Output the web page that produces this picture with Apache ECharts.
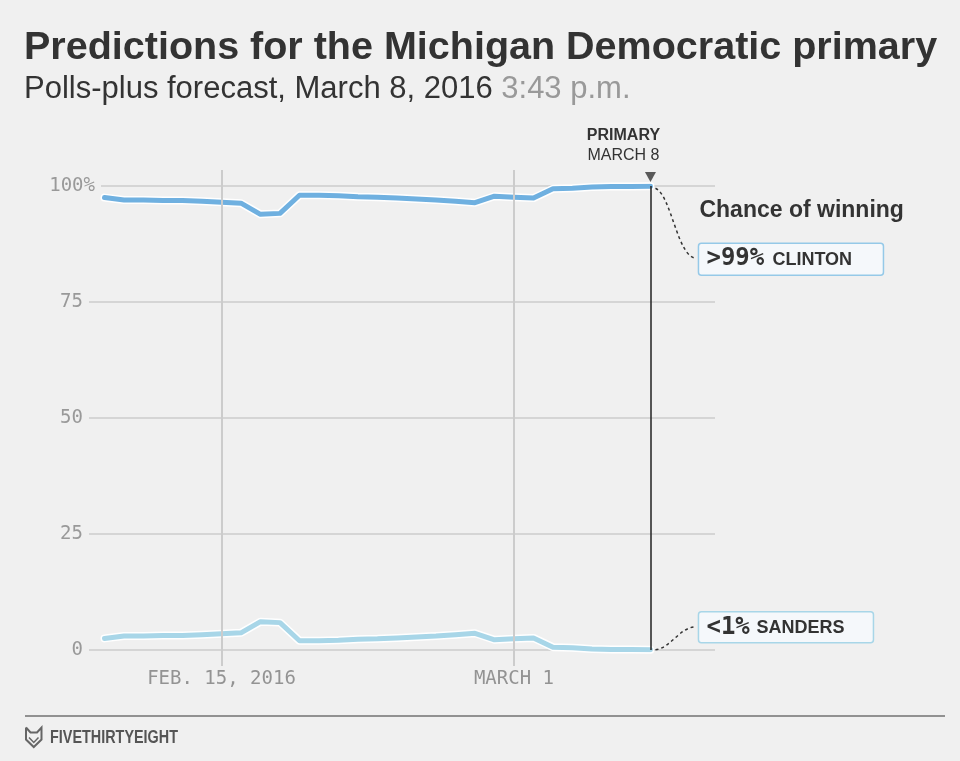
<!DOCTYPE html>
<html>
<head>
<meta charset="utf-8">
<script src="https://cdn.jsdelivr.net/npm/echarts@6/dist/echarts.min.js"></script>
<style>
  html, body { margin: 0; padding: 0; background: #f0f0f0; }
  #chart { width: 960px; height: 761px; }
</style>
</head>
<body>
<div id="chart"></div>
<script>
// ---------- data ----------
const dates = [
  '2016-02-09','2016-02-10','2016-02-11','2016-02-12','2016-02-13','2016-02-14','2016-02-15',
  '2016-02-16','2016-02-17','2016-02-18','2016-02-19','2016-02-20','2016-02-21','2016-02-22',
  '2016-02-23','2016-02-24','2016-02-25','2016-02-26','2016-02-27','2016-02-28','2016-02-29',
  '2016-03-01','2016-03-02','2016-03-03','2016-03-04','2016-03-05','2016-03-06','2016-03-07','2016-03-08'
];
const clinton = [97.5, 97.0, 97.0, 96.9, 96.9, 96.7, 96.5, 96.3, 93.9, 94.1, 98.0, 98.0, 97.9, 97.7,
  97.6, 97.4, 97.2, 97.0, 96.7, 96.4, 97.8, 97.6, 97.4, 99.4, 99.5, 99.8, 99.9, 99.9, 99.95];
const sanders = [2.5, 3.0, 3.0, 3.1, 3.1, 3.3, 3.5, 3.7, 6.1, 5.9, 2.0, 2.0, 2.1, 2.3,
  2.4, 2.6, 2.8, 3.0, 3.3, 3.6, 2.2, 2.4, 2.6, 0.6, 0.5, 0.2, 0.1, 0.1, 0.05];
const xTickDates = ['2016-02-15', '2016-03-01'];
const xTickLabels = ['FEB. 15, 2016', 'MARCH 1'];
const yTicks = [0, 25, 50, 75, 100];
const primaryDate = '2016-03-08';
const clintonLabel = ['>99%', 'CLINTON'];
const sandersLabel = ['<1%', 'SANDERS'];

// ---------- helpers ----------
const ORIGIN = Date.UTC(2016, 1, 15);
function dayOf(s) {
  const p = s.split('-').map(Number);
  return (Date.UTC(p[0], p[1] - 1, p[2]) - ORIGIN) / 86400000;
}
const xs = dates.map(dayOf);
const clintonData = xs.map((x, i) => [x, clinton[i]]);
const sandersData = xs.map((x, i) => [x, sanders[i]]);
const xTickVals = xTickDates.map(dayOf);
const primaryX = dayOf(primaryDate);

const X_MIN = -6.795, X_MAX = 25.31;
const MONO = '"DejaVu Sans Mono", monospace';
const SANS = '"Liberation Sans", Arial, sans-serif';
const GRID_LEFT = 89, GRID_RIGHT = 245;

const chart = echarts.init(document.getElementById('chart'), null, { renderer: 'canvas' });

const option = {
  backgroundColor: '#f0f0f0',
  animation: false,
  title: [
    {
      text: 'Predictions for the Michigan Democratic primary',
      left: 24, top: 28, padding: 0,
      textStyle: { fontFamily: SANS, fontWeight: 'bold', fontSize: 39.5, color: '#333' }
    },
    {
      text: 'Polls-plus forecast, March 8, 2016 {t|3:43 p.m.}',
      left: 24, top: 74, padding: 0,
      textStyle: {
        fontFamily: SANS, fontWeight: 'normal', fontSize: 31, color: '#333',
        rich: { t: { fontFamily: SANS, fontSize: 31, color: '#999' } }
      }
    }
  ],
  grid: [
    { left: GRID_LEFT, right: GRID_RIGHT, top: 170, height: 496 },
    { left: GRID_LEFT, right: GRID_RIGHT, top: 186, height: 464 }
  ],
  xAxis: [
    {
      gridIndex: 0, type: 'value', min: X_MIN, max: X_MAX,
      axisLine: { show: false }, axisTick: { show: false }, splitLine: { show: false },
      axisLabel: {
        customValues: xTickVals,
        margin: 4,
        fontFamily: MONO, fontSize: 19, color: '#939393',
        formatter: v => {
          const i = xTickVals.findIndex(t => Math.abs(t - v) < 1e-6);
          return i >= 0 ? xTickLabels[i] : '';
        }
      }
    },
    {
      gridIndex: 1, type: 'value', min: X_MIN, max: X_MAX, show: false,
      splitLine: { show: false }
    }
  ],
  yAxis: [
    { gridIndex: 0, type: 'value', min: 0, max: 1, show: false, splitLine: { show: false } },
    {
      gridIndex: 1, type: 'value', min: 0, max: 100, interval: 25,
      axisLine: { show: false }, axisTick: { show: false },
      splitLine: { show: true, lineStyle: { color: '#cccccc', width: 1.5 } },
      axisLabel: {
        margin: -12,
        formatter: v => v === 100 ? '{p|' + v + '%}' : '{n|' + v + '}',
        rich: {
          p: { fontFamily: MONO, fontSize: 19, color: '#999', padding: [2, 6, 2, 0], backgroundColor: '#f0f0f0' },
          n: { fontFamily: MONO, fontSize: 19, color: '#999', padding: [0, 18, 0, 0] }
        }
      }
    }
  ],
  series: [
    {
      type: 'line', xAxisIndex: 0, yAxisIndex: 0, data: [], silent: true,
      markLine: {
        silent: true, symbol: 'none', label: { show: false },
        lineStyle: { color: '#cccccc', width: 2, type: 'solid' },
        data: xTickVals.map(v => ({ xAxis: v }))
      }
    },
    {
      type: 'line', xAxisIndex: 1, yAxisIndex: 1, data: [], silent: true,
      markLine: {
        silent: true, symbol: 'none', label: { show: false },
        lineStyle: { color: '#222', width: 1.5, type: 'solid' },
        data: [[{ coord: [primaryX, 100] }, { coord: [primaryX, 0] }]]
      }
    },
    {
      name: 'Clinton halo', type: 'line', xAxisIndex: 1, yAxisIndex: 1, data: clintonData,
      showSymbol: false, silent: true,
      lineStyle: { color: '#ffffff', width: 8, cap: 'round', join: 'round' }
    },
    {
      name: 'Clinton', type: 'line', xAxisIndex: 1, yAxisIndex: 1, data: clintonData,
      showSymbol: false, silent: true,
      lineStyle: { color: '#6fb0e0', width: 5, cap: 'round', join: 'round' }
    },
    {
      name: 'Sanders halo', type: 'line', xAxisIndex: 1, yAxisIndex: 1, data: sandersData,
      showSymbol: false, silent: true,
      lineStyle: { color: '#ffffff', width: 8, cap: 'round', join: 'round' }
    },
    {
      name: 'Sanders', type: 'line', xAxisIndex: 1, yAxisIndex: 1, data: sandersData,
      showSymbol: false, silent: true,
      lineStyle: { color: '#a8d6e8', width: 5, cap: 'round', join: 'round' }
    },
    {
      type: 'scatter', xAxisIndex: 1, yAxisIndex: 1, silent: true,
      data: [[primaryX, 100]],
      symbol: 'triangle', symbolRotate: 180, symbolSize: [11, 10], symbolOffset: [0, -9],
      itemStyle: { color: '#333' }
    }
  ]
};
chart.setOption(option);

// ---------- annotations anchored to scale positions ----------
const last = xs.length - 1;
const pC = chart.convertToPixel({ gridIndex: 1 }, [xs[last], clinton[last]]);
const pS = chart.convertToPixel({ gridIndex: 1 }, [xs[last], sanders[last]]);
const pTop = chart.convertToPixel({ gridIndex: 1 }, [primaryX, 100]);

const bx = pC[0] + 48;
const cy = pC[1] + 57;   // clinton box top
const sy = pS[1] - 38;   // sanders box top

const g = [];
g.push({ type: 'text', x: pTop[0] - 27, y: pTop[1] - 50, silent: true,
  style: { text: 'PRIMARY', fontFamily: SANS, fontWeight: 'bold', fontSize: 16, fill: '#333', align: 'center', verticalAlign: 'middle' } });
g.push({ type: 'text', x: pTop[0] - 27, y: pTop[1] - 30, silent: true,
  style: { text: 'MARCH 8', fontFamily: SANS, fontWeight: 'normal', fontSize: 16, fill: '#333', align: 'center', verticalAlign: 'middle' } });
g.push({ type: 'text', x: bx + 1, y: pC[1] + 24, silent: true,
  style: { text: 'Chance of winning', fontFamily: SANS, fontWeight: 'bold', fontSize: 23, fill: '#333', align: 'left', verticalAlign: 'middle' } });

// connectors
g.push({ type: 'bezierCurve', silent: true,
  shape: { x1: pC[0] + 5, y1: pC[1] + 2, cpx1: pC[0] + 21, cpy1: pC[1] + 9, cpx2: pC[0] + 27, cpy2: cy + 15, x2: bx - 2, y2: cy + 15 },
  style: { stroke: '#333', lineWidth: 1.5, lineDash: [3, 3], fill: null } });
g.push({ type: 'bezierCurve', silent: true,
  shape: { x1: pS[0] + 5, y1: pS[1], cpx1: pS[0] + 21, cpy1: pS[1] - 2, cpx2: pS[0] + 29, cpy2: sy + 15, x2: bx - 2, y2: sy + 15 },
  style: { stroke: '#333', lineWidth: 1.5, lineDash: [3, 3], fill: null } });

// boxes
g.push({ type: 'rect', silent: true, shape: { x: bx, y: cy, width: 185, height: 32, r: 3 },
  style: { fill: '#f5f8fb', stroke: '#95c9e8', lineWidth: 1.5 } });
g.push({ type: 'text', silent: true, x: bx + 8, y: cy + 16,
  style: { text: clintonLabel[0], fontFamily: MONO, fontWeight: 'bold', fontSize: 24, fill: '#333', align: 'left', verticalAlign: 'middle' } });
g.push({ type: 'text', silent: true, x: bx + 74, y: cy + 17,
  style: { text: clintonLabel[1], fontFamily: SANS, fontWeight: 'bold', fontSize: 18, fill: '#333', align: 'left', verticalAlign: 'middle' } });

g.push({ type: 'rect', silent: true, shape: { x: bx, y: sy, width: 175, height: 31, r: 3 },
  style: { fill: '#f5f8fb', stroke: '#a8d6e8', lineWidth: 1.5 } });
g.push({ type: 'text', silent: true, x: bx + 8, y: sy + 15.5,
  style: { text: sandersLabel[0], fontFamily: MONO, fontWeight: 'bold', fontSize: 24, fill: '#333', align: 'left', verticalAlign: 'middle' } });
g.push({ type: 'text', silent: true, x: bx + 58, y: sy + 16.5,
  style: { text: sandersLabel[1], fontFamily: SANS, fontWeight: 'bold', fontSize: 18, fill: '#333', align: 'left', verticalAlign: 'middle' } });

// footer
g.push({ type: 'line', silent: true, shape: { x1: 25, y1: 716, x2: 945, y2: 716 }, style: { stroke: '#333', lineWidth: 1 } });
g.push({ type: 'polyline', silent: true,
  shape: { points: [[26, 727.5], [30.5, 732.5], [37, 732.5], [41.5, 727.5], [41.5, 739.5], [33.75, 747], [26, 739.5], [26, 727.5]] },
  style: { stroke: '#666', lineWidth: 2, fill: null } });
g.push({ type: 'polyline', silent: true,
  shape: { points: [[29, 737.5], [33.75, 742.5], [38.5, 737.5]] },
  style: { stroke: '#666', lineWidth: 1.5, fill: null } });
g.push({ type: 'text', silent: true, x: 50, y: 738.5, scaleX: 0.8,
  style: { text: 'FIVETHIRTYEIGHT', fontFamily: SANS, fontWeight: 'bold', fontSize: 18, fill: '#555', align: 'left', verticalAlign: 'middle' } });

chart.setOption({ graphic: g });
</script>
</body>
</html>
